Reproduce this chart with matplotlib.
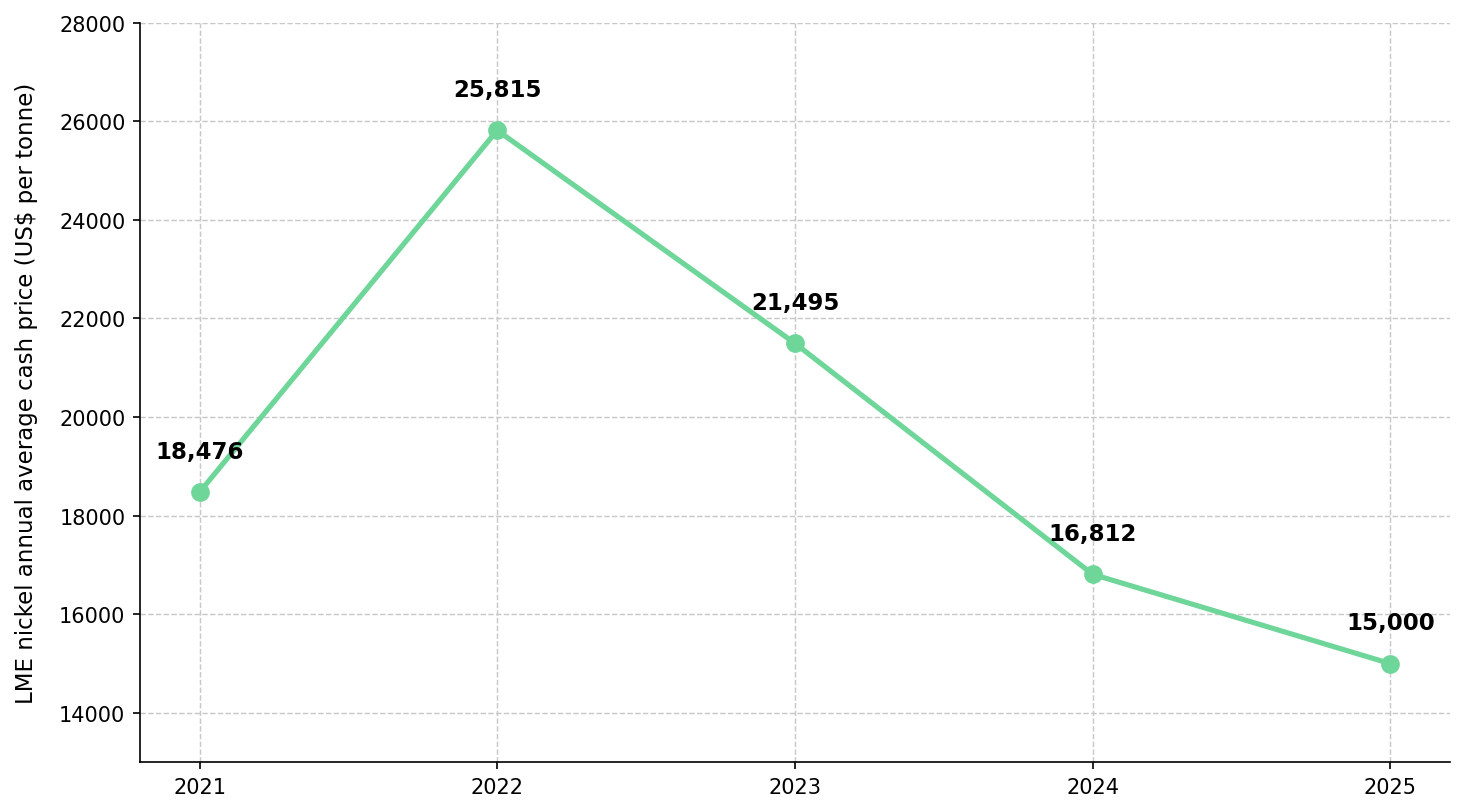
import matplotlib
matplotlib.use('Agg')
import matplotlib.pyplot as plt

years = [2021, 2022, 2023, 2024, 2025]
prices = [18476, 25815, 21495, 16812, 15000]
y_ticks = [14000, 16000, 18000, 20000, 22000, 24000, 26000, 28000]

line_color = '#6fd69a'

fig, ax = plt.subplots(figsize=(9.76, 5.4133), dpi=150)
ax.plot(years, prices, color=line_color, linewidth=2.5, marker='o', markersize=8)

for x, y in zip(years, prices):
    ax.annotate(f'{y:,}', (x, y), xytext=(0, 14), textcoords='offset points',
                ha='center', va='bottom', fontsize=11, fontweight='bold')

ax.set_ylim(13000, 28000)
ax.set_yticks(y_ticks)
ax.set_xticks(years)
ax.set_ylabel('LME nickel annual average cash price (US$ per tonne)', fontsize=11, labelpad=10)
ax.grid(True, linestyle='--', color='#c8c8c8', linewidth=0.7)
ax.set_axisbelow(True)
ax.spines['top'].set_visible(False)
ax.spines['right'].set_visible(False)

plt.subplots_adjust(left=0.0956, right=0.9904, top=0.971, bottom=0.060)
plt.savefig('out.png')
